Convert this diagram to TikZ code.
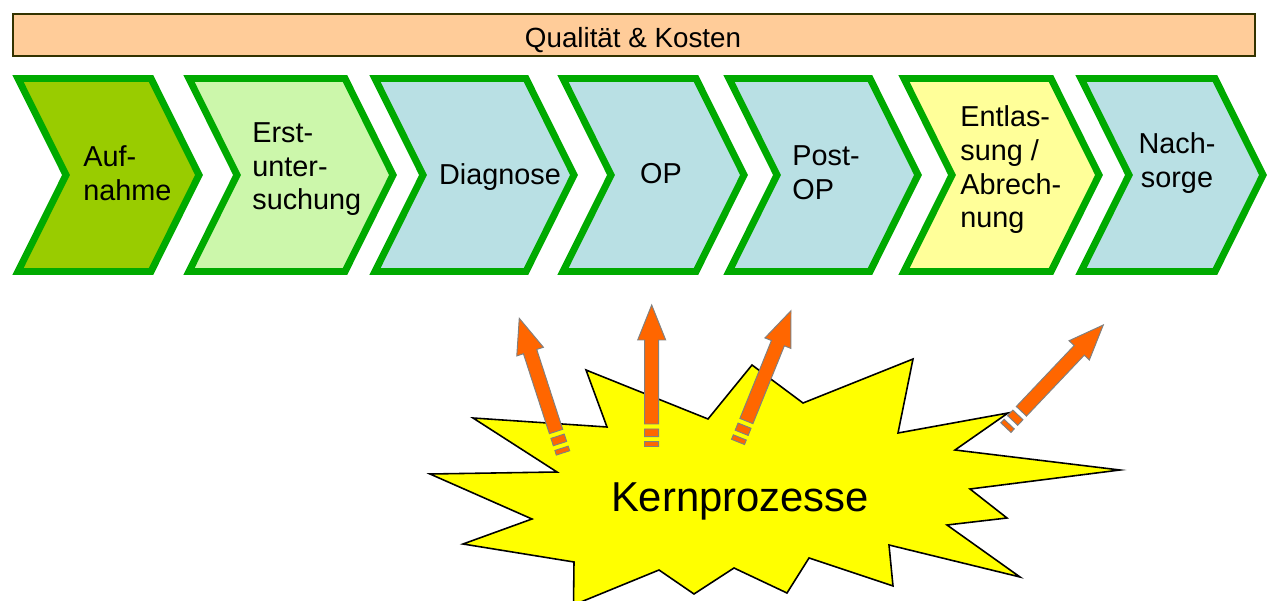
\documentclass[tikz,border=0pt]{standalone}
\usepackage{fontspec}
\setmainfont{Liberation Sans}
\definecolor{chevline}{RGB}{0,170,0}
\definecolor{stepdark}{RGB}{153,204,0}
\definecolor{steplight}{RGB}{204,247,171}
\definecolor{stepblue}{RGB}{185,224,228}
\definecolor{stepyellow}{RGB}{255,255,153}
\definecolor{bannerfill}{RGB}{255,204,153}
\definecolor{bannerline}{RGB}{51,51,0}
\definecolor{rocket}{RGB}{255,102,0}
\definecolor{rocketline}{RGB}{128,128,128}
\definecolor{burstfill}{RGB}{255,255,0}
\tikzset{
  chevbox/.style={draw=chevline, line width=3.97pt, line join=miter},
  steplabel/.style={font=\fontsize{16.4}{19.3}\selectfont, inner sep=0pt, align=left},
  steplabelc/.style={steplabel, align=center, anchor=north},
  burstarrow/.pic={
    \filldraw[fill=rocket, draw=rocketline, line width=0.55pt]
      (0,-7) rectangle (4.8,7)
      (9.8,-7) rectangle (17.5,7)
      (22.5,-7) -- (106.5,-7) -- (106.5,-14) -- (141.5,0)
      -- (106.5,14) -- (106.5,7) -- (22.5,7) -- cycle;
  }
}
% one process step: left x of the top edge, right x of the top edge, fill colour
\newcommand\processstep[3]{%
  \draw[chevbox, fill=#3] (#1,78.5) -- (#2,78.5) -- (#2+48,175)
    -- (#2,271.5) -- (#1,271.5) -- (#1+48,175) -- cycle;}
\begin{document}
\begin{tikzpicture}[x=0.02cm, y=-0.02cm]
\useasboundingbox (0,0) rectangle (1269,601);

% banner across the top
\draw[fill=bannerfill, draw=bannerline, line width=1.4pt] (13,14) rectangle (1255,56);
\node[anchor=base, inner sep=0pt, font=\fontsize{15.8}{18}\selectfont] (banner) at (633,47.5)
  {Qualität \& Kosten};

% chain of process steps
\processstep{18}{151}{stepdark}
\processstep{189}{345}{steplight}
\processstep{375}{526}{stepblue}
\processstep{563}{696}{stepblue}
\processstep{729}{870}{stepblue}
\processstep{904}{1051}{stepyellow}
\processstep{1081}{1215}{stepblue}

\node[steplabel, anchor=north west] (s1) at (83,145) {Auf-\\nahme};
\node[steplabel, anchor=north west] (s2) at (252,122) {Erst-\\unter-\\suchung};
\node[steplabelc] (s3) at (500,163) {Diagnose};
\node[steplabelc] (s4) at (661,163) {OP};
\node[steplabel, anchor=north west] (s5) at (792,145) {Post-\\OP};
\node[steplabel, anchor=north west] (s6) at (960,105) {Entlas-\\sung /\\Abrech-\\nung};
\node[steplabelc] (s7) at (1177,132) {Nach-\\sorge};

% the burst of core processes
\draw[fill=burstfill, draw=black, line width=0.9pt, line join=miter]
  (473,418) -- (607,427) -- (586,370) -- (708,419) -- (752,365) -- (803,403)
  -- (913,359) -- (898,433) -- (1008,413) -- (955,450) -- (1120,470) -- (970,489)
  -- (1007,518) -- (947,525) -- (1020,577) -- (889,545) -- (893,586) -- (809,558)
  -- (787,593) -- (734,568) -- (694,594) -- (659,570) -- (573.5,605) -- (574,562)
  -- (463,544) -- (532,519) -- (430,474) -- (557,472) -- cycle;
\node[anchor=base, inner sep=0pt, font=\fontsize{23.8}{28}\selectfont] (core) at (740,511.7) {Kernprozesse};

% arrows shooting out of the burst
\pic[rotate=108] at (563,452.9) {burstarrow};
\pic[rotate=90] at (651.7,446.5) {burstarrow};
\pic[rotate=68] at (738,441.9) {burstarrow};
\pic[rotate=46.5] at (1005.9,427.6) {burstarrow};
\end{tikzpicture}
\end{document}
